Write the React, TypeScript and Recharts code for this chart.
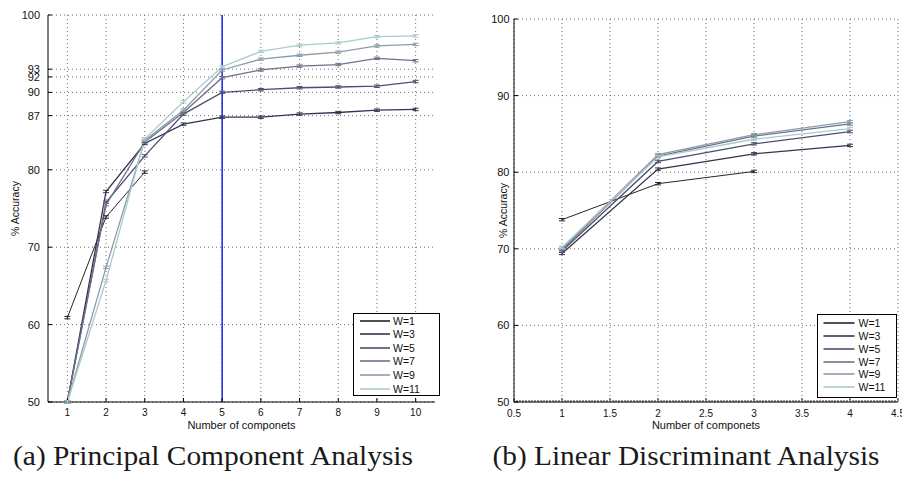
import React from 'react';
import {
  LineChart, Line, XAxis, YAxis, CartesianGrid, ReferenceLine, Legend,
} from 'recharts';

// ── Data ──────────────────────────────────────────────────────────────────────

const seriesNames = ['W=1', 'W=3', 'W=5', 'W=7', 'W=9', 'W=11'];
const seriesKeys = ['w1', 'w3', 'w5', 'w7', 'w9', 'w11'];
const seriesColors = ['#262626', '#34344f', '#4e4e72', '#6c7289', '#8c9caa', '#a9cccb'];

// (a) PCA
const pcaComponents = [1, 2, 3, 4, 5, 6, 7, 8, 9, 10];
const pcaW1 = [60.9, 73.9, 79.7];
const pcaW3 = [50, 77.2, 83.4, 85.9, 86.8, 86.8, 87.2, 87.4, 87.7, 87.8];
const pcaW5 = [50, 75.8, 81.8, 87.2, 90.0, 90.35, 90.6, 90.7, 90.8, 91.4];
const pcaW7 = [50, 75.5, 83.6, 87.4, 91.9, 92.9, 93.4, 93.6, 94.4, 94.1];
const pcaW9 = [50, 67.4, 83.8, 87.7, 92.9, 94.3, 94.8, 95.2, 96.0, 96.2];
const pcaW11 = [50, 65.7, 84.0, 88.8, 93.3, 95.3, 96.1, 96.4, 97.2, 97.3];
const pcaYTicks = [50, 60, 70, 80, 87, 90, 92, 93, 100];
const pcaXTicks = [1, 2, 3, 4, 5, 6, 7, 8, 9, 10];
const pcaChosen = 5;

// (b) LDA
const ldaComponents = [1, 2, 3, 4];
const ldaW1 = [73.8, 78.5, 80.1];
const ldaW3 = [69.4, 80.4, 82.4, 83.5];
const ldaW5 = [69.7, 81.4, 83.7, 85.3];
const ldaW7 = [69.9, 82.1, 84.7, 86.3];
const ldaW9 = [70.1, 82.3, 84.9, 86.6];
const ldaW11 = [70.2, 82.0, 84.3, 85.7];
const ldaYTicks = [50, 60, 70, 80, 90, 100];
const ldaXTicks = [0.5, 1, 1.5, 2, 2.5, 3, 3.5, 4, 4.5];
// matlab-style minor ticks along the bottom axis (every 1/32)
const ldaMinorTicks = Array.from({ length: 129 }, (_, i) => 0.5 + i / 32);

const captionA = '(a) Principal Component Analysis';
const captionB = '(b) Linear Discriminant Analysis';
const xTitle = 'Number of componets';
const yTitle = '% Accuracy';

function buildRows(xs: number[], series: number[][]) {
  return xs.map((x, i) => {
    const row: Record<string, number | null> = { x };
    series.forEach((s, k) => {
      row[seriesKeys[k]] = s[i] ?? null;
    });
    return row;
  });
}

const pcaRows = buildRows(pcaComponents, [pcaW1, pcaW3, pcaW5, pcaW7, pcaW9, pcaW11]);
const ldaRows = buildRows(ldaComponents, [ldaW1, ldaW3, ldaW5, ldaW7, ldaW9, ldaW11]);

// ── Bits ──────────────────────────────────────────────────────────────────────

const FONT = '"Liberation Sans", Arial, Helvetica, sans-serif';
const INK = '#111';

// little error-bar marker at each point
function renderErrDot(p: any) {
  const { cx, cy, stroke, index } = p;
  if (cx == null || cy == null || Number.isNaN(cy)) return <g key={`d-${index}`} />;
  return (
    <g key={`d-${index}`}>
      <line x1={cx - 3} x2={cx + 3} y1={cy - 1.2} y2={cy - 1.2} stroke={stroke} strokeWidth={1} />
      <line x1={cx - 3} x2={cx + 3} y1={cy + 1.2} y2={cy + 1.2} stroke={stroke} strokeWidth={1} />
      <line x1={cx} x2={cx} y1={cy - 1.2} y2={cy + 1.2} stroke={stroke} strokeWidth={1} />
    </g>
  );
}

const xTitleContent = (dy: number) => (props: any) => {
  const vb = props.viewBox ?? { x: 0, y: 0, width: 0, height: 0 };
  return (
    <text x={vb.x + vb.width / 2} y={vb.y + dy} textAnchor="middle" fontSize={11} fill={INK}>
      {xTitle}
    </text>
  );
};

const yTitleContent = (dx: number) => (props: any) => {
  const vb = props.viewBox ?? { x: 0, y: 0, width: 0, height: 0 };
  const cx = vb.x + dx;
  const cy = vb.y + vb.height / 2;
  return (
    <text
      x={cx}
      y={cy}
      transform={`rotate(-90 ${cx} ${cy})`}
      textAnchor="middle"
      dominantBaseline="central"
      fontSize={10.5}
      fill={INK}
    >
      {yTitle}
    </text>
  );
};

function renderLdaTick(p: any) {
  const { x, y, payload, index } = p;
  const v = payload.value as number;
  const major = Number.isInteger(v * 2);
  return (
    <g key={`t-${index}`}>
      <line x1={x} x2={x} y1={y} y2={y - (major ? 4 : 2)} stroke="#000" strokeWidth={0.8} />
      {major && (
        <text x={x} y={y + 15} textAnchor="middle" fontSize={10} fill={INK}>
          {String(v)}
        </text>
      )}
    </g>
  );
}

interface LegendBoxSpec {
  w: number;
  h: number;
  top: number;
  step: number;
  lineStart: number;
  lineEnd: number;
  gap: number;
  font: number;
}

const legendContent = (box: LegendBoxSpec) => (props: any) => {
  const items = ([...(props.payload ?? [])] as { value: string; color: string }[])
    .sort((a, b) => seriesNames.indexOf(a.value) - seriesNames.indexOf(b.value));
  return (
    <div
      style={{
        width: box.w,
        height: box.h,
        boxSizing: 'border-box',
        border: '1.5px solid #000',
        background: '#fff',
        position: 'relative',
        fontFamily: FONT,
      }}
    >
      {items.map((it, i) => (
        <div
          key={it.value}
          style={{
            position: 'absolute',
            left: 0,
            top: box.top + i * box.step - 7.5,
            height: 12,
            display: 'flex',
            alignItems: 'center',
          }}
        >
          <svg width={box.lineEnd} height={12} style={{ display: 'block' }}>
            <line x1={box.lineStart} x2={box.lineEnd} y1={6} y2={6} stroke={it.color} strokeWidth={1.6} />
          </svg>
          <span style={{ fontSize: box.font, marginLeft: box.gap, color: INK, lineHeight: '12px' }}>
            {it.value}
          </span>
        </div>
      ))}
    </div>
  );
};

function seriesLines() {
  return seriesKeys.map((k, i) => (
    <Line
      key={k}
      type="linear"
      dataKey={k}
      name={seriesNames[i]}
      stroke={seriesColors[i]}
      strokeWidth={i === 0 ? 1 : 1.3}
      dot={renderErrDot}
      activeDot={false}
      isAnimationActive={false}
    />
  ));
}

// ── Charts ────────────────────────────────────────────────────────────────────

function PcaChart() {
  return (
    <LineChart width={450} height={440} data={pcaRows} margin={{ top: 15, right: 15, bottom: 0, left: 0 }}>
      <CartesianGrid stroke="#6f6f6f" strokeDasharray="1 3" syncWithTicks />
      <XAxis
        dataKey="x"
        type="number"
        domain={[0.5, 10.5]}
        ticks={pcaXTicks}
        interval={0}
        tickSize={-4}
        tickMargin={11}
        height={38}
        stroke="#000"
        tick={{ fontSize: 10, fill: INK }}
        label={{ content: xTitleContent(27) }}
      />
      <YAxis
        type="number"
        domain={[50, 100]}
        ticks={pcaYTicks}
        interval={0}
        tickSize={-4}
        tickMargin={12}
        width={48}
        stroke="#000"
        tick={{ fontSize: 11, fill: INK }}
        label={{ content: yTitleContent(15) }}
      />
      <ReferenceLine x={pcaChosen} stroke="#2020e6" strokeWidth={1.5} />
      {seriesLines()}
      <Legend
        layout="vertical"
        align="center"
        verticalAlign="middle"
        itemSorter={null}
        wrapperStyle={{ left: 353, top: 313, width: 87, height: 83 }}
        content={legendContent({ w: 87, h: 83, top: 8, step: 13.6, lineStart: 6, lineEnd: 36, gap: 3, font: 10.5 })}
      />
    </LineChart>
  );
}

function LdaChart() {
  return (
    <LineChart width={452} height={440} data={ldaRows} margin={{ top: 19, right: 4, bottom: 0, left: 0 }}>
      <CartesianGrid stroke="#6f6f6f" strokeDasharray="1 3" verticalValues={ldaXTicks} syncWithTicks />
      <XAxis
        dataKey="x"
        type="number"
        domain={[0.5, 4.5]}
        ticks={ldaMinorTicks}
        interval={0}
        tickSize={0}
        tickMargin={0}
        tickLine={false}
        height={38}
        stroke="#000"
        tick={renderLdaTick}
        label={{ content: xTitleContent(27) }}
      />
      <YAxis
        type="number"
        domain={[50, 100]}
        ticks={ldaYTicks}
        interval={0}
        tickSize={-4}
        tickMargin={8.5}
        width={64}
        stroke="#000"
        tick={{ fontSize: 11, fill: INK }}
        label={{ content: yTitleContent(53) }}
      />
      {seriesLines()}
      <Legend
        layout="vertical"
        align="center"
        verticalAlign="middle"
        itemSorter={null}
        wrapperStyle={{ left: 367, top: 314, width: 80, height: 84 }}
        content={legendContent({ w: 80, h: 84, top: 9.3, step: 12.9, lineStart: 5.5, lineEnd: 36.5, gap: 4, font: 10.5 })}
      />
    </LineChart>
  );
}

export default function App() {
  return (
    <div
      style={{
        position: 'absolute',
        left: 0,
        top: 0,
        width: 902,
        height: 484,
        background: '#fff',
        fontFamily: FONT,
        overflow: 'hidden',
      }}
    >
      <div style={{ position: 'absolute', left: 0, top: 0 }}>
        <PcaChart />
      </div>
      <div style={{ position: 'absolute', left: 450, top: 0 }}>
        <LdaChart />
      </div>
      <svg width={902} height={484} style={{ position: 'absolute', left: 0, top: 0, pointerEvents: 'none' }}>
        <text
          x={213}
          y={465}
          textAnchor="middle"
          fontFamily='"Liberation Serif", "DejaVu Serif", serif'
          fontSize={26.5}
          fill="#1a1a1a"
          textLength={400}
          lengthAdjust="spacingAndGlyphs"
        >
          {captionA}
        </text>
        <text
          x={686}
          y={465}
          textAnchor="middle"
          fontFamily='"Liberation Serif", "DejaVu Serif", serif'
          fontSize={26.5}
          fill="#1a1a1a"
          textLength={387}
          lengthAdjust="spacingAndGlyphs"
        >
          {captionB}
        </text>
      </svg>
    </div>
  );
}
